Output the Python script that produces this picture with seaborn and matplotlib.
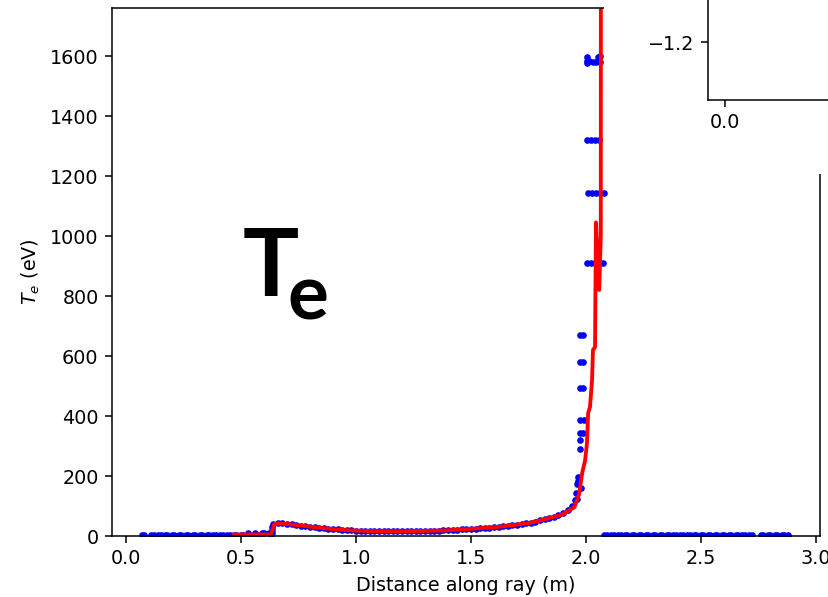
import numpy as np
import seaborn as sns
from matplotlib import pyplot as plt

# blue measured points: flat part before the jump
flat_x = [0.07, 0.08, 0.11, 0.12, 0.14, 0.15, 0.17, 0.18, 0.20, 0.21, 0.23, 0.24, 0.26, 0.27,
          0.29, 0.30, 0.32, 0.33, 0.35, 0.36, 0.38, 0.39, 0.41, 0.42, 0.44, 0.45, 0.47, 0.48,
          0.50, 0.51, 0.53, 0.54, 0.56, 0.57, 0.59, 0.60, 0.62, 0.63]
flat_y = [4, 4, 4, 4, 4, 4, 4, 4, 4, 4, 4, 4, 4, 4,
          4, 4, 4, 4, 4, 4, 4, 4, 4, 4, 4, 4, 4, 4,
          4, 4, 9, 4, 9, 4, 9, 10, 10, 5]

# blue points along the ramp
ramp_x = [0.635, 0.635, 0.635, 0.64, 0.66, 0.68, 0.70, 0.72, 0.74, 0.76, 0.78, 0.80, 0.82, 0.84,
          0.86, 0.88, 0.90, 0.92, 0.94, 0.96, 0.98, 1.00, 1.02, 1.04, 1.06, 1.08, 1.10, 1.12,
          1.14, 1.16, 1.18, 1.20, 1.22, 1.24, 1.26, 1.28, 1.30, 1.32, 1.34, 1.36, 1.38, 1.40,
          1.42, 1.44, 1.46, 1.48, 1.50, 1.52, 1.54, 1.56, 1.58, 1.60, 1.62, 1.64, 1.66, 1.68,
          1.70, 1.72, 1.74, 1.76, 1.78, 1.80, 1.82, 1.84, 1.86, 1.88, 1.90, 1.92, 1.94, 1.96, 1.98]
ramp_y = [10, 20, 30, 40, 44, 43, 41, 39, 37, 35, 33, 31, 29, 27,
          26, 24, 23, 22, 21, 20, 19, 18, 17, 17, 16, 16, 16, 16,
          16, 16, 16, 16, 16, 16, 16, 17, 17, 17, 18, 18, 19, 19,
          20, 21, 22, 23, 24, 25, 26, 27, 28, 29, 31, 32, 34, 36,
          38, 40, 42, 45, 48, 52, 56, 60, 65, 70, 78, 88, 100, 125, 160]

# blue points in the spike
spike_x = [1.950, 1.955, 1.960, 1.963, 1.965, 1.972, 1.972, 1.975, 1.985, 1.975, 1.990,
           1.974, 1.987, 1.974, 1.987, 1.974, 1.987,
           2.004, 2.022, 2.039, 2.057, 2.074,
           2.009, 2.026, 2.043, 2.061, 2.078,
           2.004, 2.022, 2.039, 2.057,
           2.004, 2.004, 2.004, 2.013, 2.030, 2.043, 2.052, 2.052, 2.061, 2.061]
spike_y = [120, 143, 173, 197, 185, 290, 320, 343, 345, 387, 387,
           493, 493, 580, 580, 670, 670,
           910, 910, 910, 910, 910,
           1143, 1143, 1143, 1143, 1143,
           1320, 1320, 1320, 1320,
           1598, 1585, 1577, 1583, 1580, 1580, 1598, 1585, 1600, 1580]

# blue points after the spike
tail_x = [2.08, 2.09, 2.11, 2.12, 2.14, 2.15, 2.17, 2.18, 2.20, 2.21, 2.23, 2.24, 2.26, 2.27,
          2.29, 2.30, 2.32, 2.33, 2.35, 2.36, 2.38, 2.39, 2.41, 2.42, 2.44, 2.45, 2.47, 2.48,
          2.50, 2.51, 2.53, 2.54, 2.56, 2.57, 2.59, 2.60, 2.62, 2.63, 2.65, 2.66, 2.68, 2.69,
          2.71, 2.72, 2.76, 2.77, 2.79, 2.80, 2.82, 2.83, 2.85, 2.86, 2.88]
tail_y = [4, 4, 4, 4, 4, 4, 4, 4, 4, 4, 4, 4, 4, 4,
          4, 4, 4, 4, 4, 4, 4, 4, 4, 4, 4, 4, 4, 4,
          4, 4, 4, 4, 4, 4, 4, 4, 4, 4, 4, 4, 4, 4,
          4, 4, 4, 4, 4, 4, 4, 4, 4, 4, 4]

# red model line
line_x = [0.47, 0.55, 0.63, 0.645, 0.66, 0.70, 0.75, 0.80, 0.85, 0.90, 0.95, 1.00, 1.10, 1.20,
          1.30, 1.40, 1.50, 1.60, 1.70, 1.75, 1.80, 1.85, 1.89, 1.92, 1.95, 1.97, 1.983, 1.996,
          2.004, 2.009, 2.017, 2.026, 2.030, 2.039, 2.043, 2.057, 2.064, 2.066]
line_y = [5, 5, 5, 40, 42, 40, 36, 31, 27, 23, 20, 18, 16, 16,
          17, 19, 24, 29, 38, 43, 52, 62, 70, 82, 97, 140, 210, 253,
          310, 410, 430, 520, 620, 630, 1045, 820, 1000, 5000]

W, H, DPI = 828, 597, 138
fig = plt.figure(figsize=(W / DPI, H / DPI), dpi=DPI)
ax = fig.add_axes([112 / W, 1 - 536 / H, (820 - 112) / W, (536 - 8) / H])

pts_x = flat_x + ramp_x + spike_x + tail_x
pts_y = flat_y + ramp_y + spike_y + tail_y
sns.scatterplot(x=pts_x, y=pts_y, color='blue', s=12, linewidth=0, ax=ax)
sns.lineplot(x=line_x, y=line_y, sort=False, estimator=None, color='red', lw=2, ax=ax)

ax.set_xlim(-0.061, 3.017)
ax.set_ylim(0, 1760)
ax.set_xticks([0.0, 0.5, 1.0, 1.5, 2.0, 2.5, 3.0])
ax.set_yticks(np.arange(0, 1601, 200))
ax.set_xlabel('Distance along ray (m)')
ax.set_ylabel(r'$T_e$ (eV)')

fig.text(243 / W, 1 - 296 / H, 'T', fontsize=49, fontweight='bold', family='Lato',
         ha='left', va='baseline')
fig.text(287 / W, 1 - 320 / H, 'e', fontsize=40, fontweight='bold', family='Lato',
         ha='left', va='baseline')

# white patch where the neighbouring panel overlaps
cover = fig.add_axes([604 / W, 1 - 174 / H, 1 - 604 / W, 174 / H], zorder=5)
cover.set_facecolor('white')
cover.set_xticks([])
cover.set_yticks([])
for s in cover.spines.values():
    s.set_visible(False)

inset = fig.add_axes([708 / W, 1 - 100 / H, 200 / W, 200 / H], zorder=6)
inset.set_xlim(-0.085, 0.915)
inset.set_ylim(-1.49, -0.49)
inset.set_xticks([0.0])
inset.set_xticklabels(['0.0'])
inset.set_yticks([-1.2])

fig.savefig('out.png', dpi=DPI)
